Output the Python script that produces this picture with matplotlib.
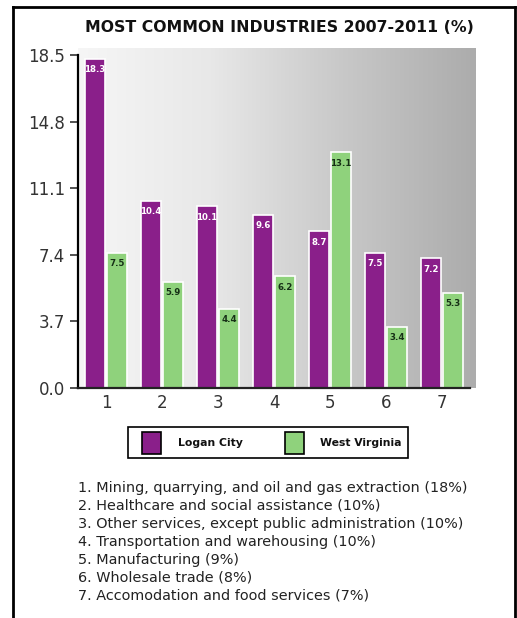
import numpy as np
import matplotlib.pyplot as plt
from matplotlib.patches import Rectangle
from matplotlib.lines import Line2D
from matplotlib.colors import LinearSegmentedColormap

groups = [1, 2, 3, 4, 5, 6, 7]
logan = [18.3, 10.4, 10.1, 9.6, 8.7, 7.5, 7.2]
wv = [7.5, 5.9, 4.4, 6.2, 13.1, 3.4, 5.3]
series_names = ["Logan City", "West Virginia"]
yticks = [0.0, 3.7, 7.4, 11.1, 14.8, 18.5]
industries = [
    "1. Mining, quarrying, and oil and gas extraction (18%)",
    "2. Healthcare and social assistance (10%)",
    "3. Other services, except public administration (10%)",
    "4. Transportation and warehousing (10%)",
    "5. Manufacturing (9%)",
    "6. Wholesale trade (8%)",
    "7. Accomodation and food services (7%)",
]

purple = "#8a1f8a"
green = "#8fd27c"
W, H = 517, 618

fig = plt.figure(figsize=(W / 100, H / 100), dpi=100)

# shaded panel behind the bars
bg = fig.add_axes([78 / W, 1 - 388 / H, (476 - 78) / W, (388 - 48) / H], zorder=0)
grad = np.linspace(0, 1, 256).reshape(1, -1)
cmap = LinearSegmentedColormap.from_list("g", ["#f6f6f6", "#e8e8e8", "#c8c8c8", "#acacac"])
bg.imshow(grad, aspect="auto", cmap=cmap, extent=[0, 1, 0, 1])
bg.axis("off")

ax = fig.add_axes([78 / W, 1 - 388 / H, (470 - 78) / W, (388 - 55) / H], zorder=1)
ax.patch.set_alpha(0)
x = np.array(groups)
bw = 0.37
b1 = ax.bar(x - bw / 2 - 0.01, logan, bw, color=purple, edgecolor="white", linewidth=1.2)
b2 = ax.bar(x + bw / 2 + 0.01, wv, bw, color=green, edgecolor="white", linewidth=1.2)
for r, v in zip(b1, logan):
    ax.text(r.get_x() + r.get_width() / 2, v - 0.35, f"{v}", ha="center", va="top",
            fontsize=6.2, fontweight="bold", color="white")
for r, v in zip(b2, wv):
    ax.text(r.get_x() + r.get_width() / 2, v - 0.35, f"{v}", ha="center", va="top",
            fontsize=6.2, fontweight="bold", color="#163016")

ax.set_xlim(0.5, 7.5)
ax.set_ylim(0, 18.5)
ax.set_yticks(yticks)
ax.set_yticklabels([f"{t:.1f}" for t in yticks])
ax.set_xticks(groups)
for s in ["top", "right"]:
    ax.spines[s].set_visible(False)
ax.spines["left"].set_linewidth(1.6)
ax.spines["bottom"].set_linewidth(1.6)
ax.spines["bottom"].set_color("#222222")
ax.tick_params(axis="both", labelsize=12, colors="#333333", length=6, width=1.2)
ax.tick_params(axis="x", length=0, pad=4)

fig.text(279 / W, 1 - 27 / H, "MOST COMMON INDUSTRIES 2007-2011 (%)", ha="center", va="center",
         fontsize=11.3, fontweight="bold", color="#111111")

# legend box, drawn in pixel positions
def px(x0, y0, w, h):
    return (x0 / W, 1 - (y0 + h) / H), w / W, h / H

xy, w, h = px(128, 427, 280, 31)
fig.add_artist(Rectangle(xy, w, h, transform=fig.transFigure, facecolor="white",
                         edgecolor="black", linewidth=1.2))
for hx, tx, col, name in [(142, 178, purple, series_names[0]), (285, 320, green, series_names[1])]:
    xy, w, h = px(hx, 432, 19, 22)
    fig.add_artist(Rectangle(xy, w, h, transform=fig.transFigure, facecolor=col,
                             edgecolor="black", linewidth=1.2))
    fig.text(tx / W, 1 - 443 / H, name, ha="left", va="center", fontsize=7.8,
             fontweight="bold", color="#111111")

fig.text(78 / W, 1 - 481 / H, "\n".join(industries), ha="left", va="top", fontsize=10.4,
         color="#222222", linespacing=1.36)

# outer border
for xs, ys in [([13, 13], [H, 7]), ([13, 515], [7, 7]), ([515, 515], [7, H])]:
    fig.add_artist(Line2D([v / W for v in xs], [1 - v / H for v in ys], color="black", linewidth=2))

fig.savefig("out.png", dpi=100)
